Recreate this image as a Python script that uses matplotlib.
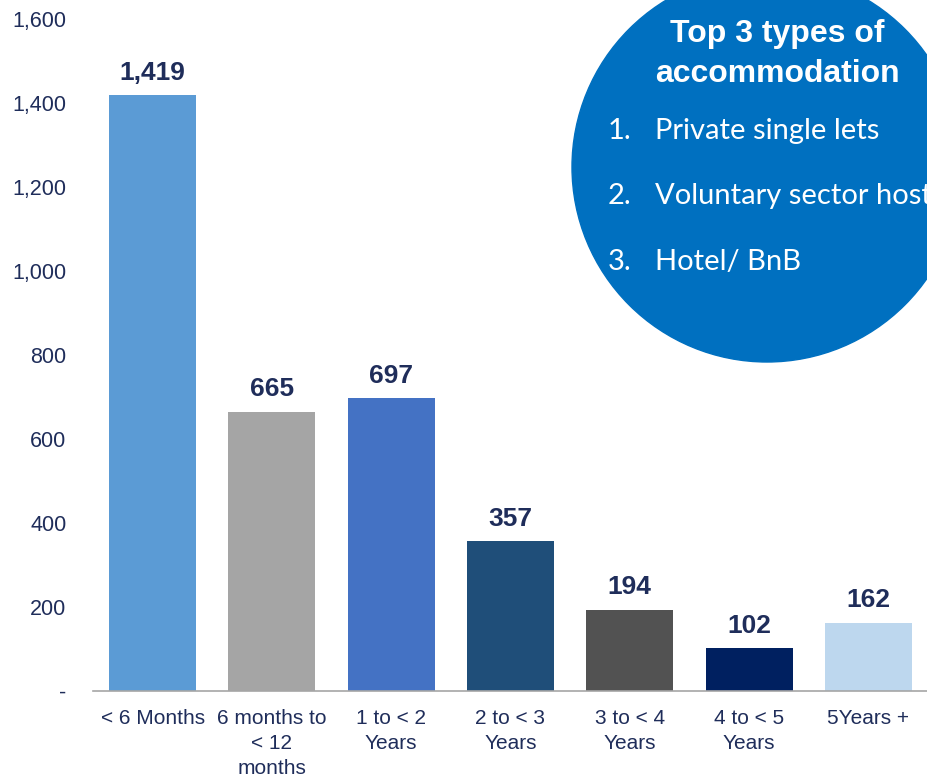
import matplotlib.pyplot as plt
from matplotlib.patches import Ellipse
from matplotlib.ticker import FuncFormatter

# data
categories = ['< 6 Months', '6 months to\n< 12\nmonths', '1 to < 2\nYears', '2 to < 3\nYears',
              '3 to < 4\nYears', '4 to < 5\nYears', '5Years +']
counts = [1419, 665, 697, 357, 194, 102, 162]
bar_colors = ['#5B9BD5', '#A5A5A5', '#4472C4', '#1F4E79', '#525252', '#002060', '#BDD7EE']
top_types = ['Private single lets', 'Voluntary sector hostels', 'Hotel/ BnB']

navy = '#1F2D5A'

fig = plt.figure(figsize=(9.28, 7.78), dpi=100)
ax = fig.add_axes([93 / 928, 87 / 778, 1 - 93 / 928, (691 - 19) / 778])

x = range(len(counts))
ax.bar(x, counts, width=0.73, color=bar_colors, zorder=2)
for i, v in zip(x, counts):
    ax.text(i, v + 25, f'{v:,}', ha='center', va='bottom', fontsize=19, fontweight='bold',
            color=navy, family=['Liberation Sans', 'DejaVu Sans'])

ax.set_xlim(-0.5, 6.5)
ax.set_ylim(0, 1600)
ax.set_yticks(range(0, 1601, 200))
ax.yaxis.set_major_formatter(FuncFormatter(lambda v, p: '-' if v == 0 else f'{int(v):,}'))
ax.set_xticks(list(x))
ax.set_xticklabels(categories, family=['Liberation Sans Narrow', 'Liberation Sans', 'DejaVu Sans'],
                   fontsize=15, color=navy, linespacing=1.4)
for lab in ax.get_yticklabels():
    lab.set_family(['Liberation Sans', 'DejaVu Sans'])
    lab.set_fontsize(15.5)
    lab.set_color(navy)
ax.tick_params(axis='y', length=0, pad=19)
ax.tick_params(axis='x', length=0, pad=13)
for s in ['top', 'right', 'left']:
    ax.spines[s].set_visible(False)
ax.spines['bottom'].set_color('#A6A6A6')
ax.spines['bottom'].set_linewidth(1.2)

# blue circle callout
cx, cy, r = 767, 167, 195
circle = Ellipse((cx / 928, 1 - cy / 778), 2 * r / 928, 2 * r / 778,
                 transform=fig.transFigure, color='#0070C0', zorder=5)
fig.add_artist(circle)
fig.text(777 / 928, 1 - 54 / 778, 'Top 3 types of\naccommodation', ha='center', va='center',
         color='white', fontsize=23, fontweight='bold', linespacing=1.4,
         family=['Liberation Sans', 'DejaVu Sans'], zorder=6)
for k, (item, yy) in enumerate(zip(top_types, [131, 196, 262])):
    fig.text(608 / 928, 1 - yy / 778, f'{k + 1}.', ha='left', va='center', color='white',
             fontsize=21, family=['Lato', 'DejaVu Sans'], zorder=6)
    fig.text(655 / 928, 1 - yy / 778, item, ha='left', va='center', color='white',
             fontsize=21, family=['Lato', 'DejaVu Sans'], zorder=6)

fig.savefig('out.png', dpi=100)
